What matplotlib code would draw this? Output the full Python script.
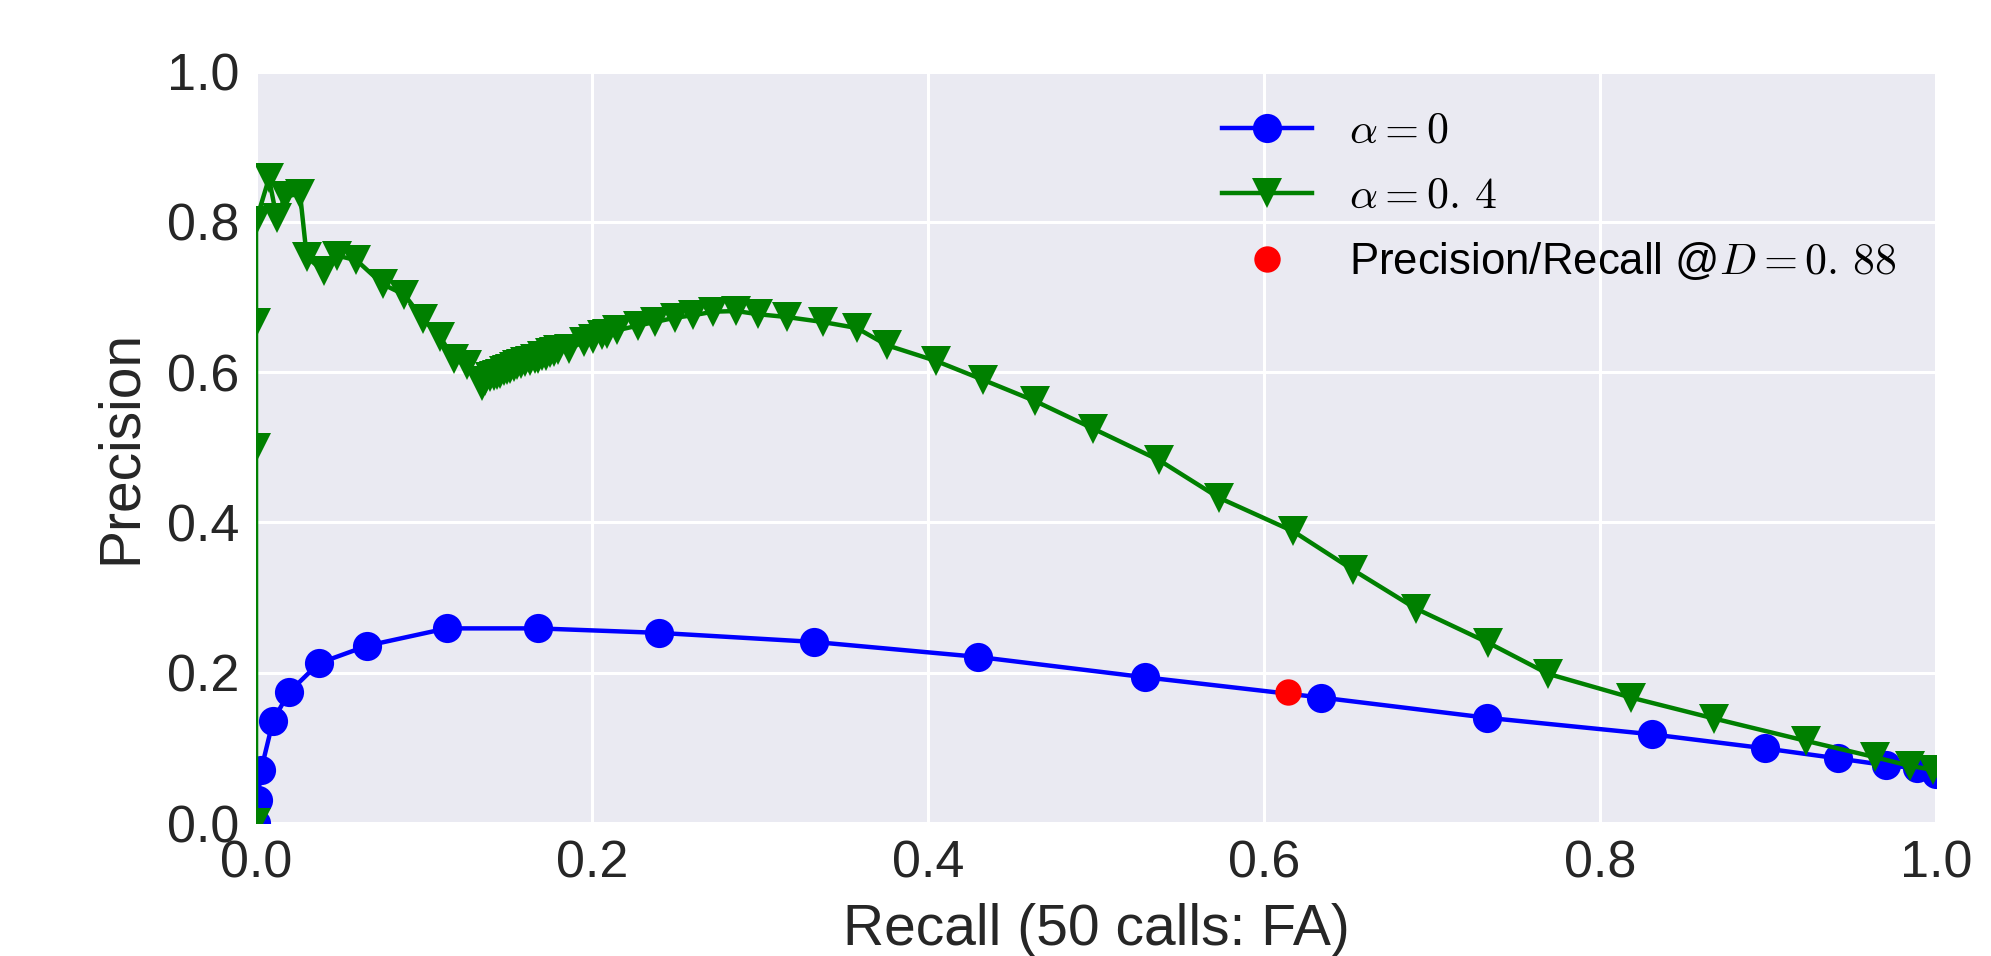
import matplotlib
matplotlib.use("Agg")
import matplotlib.pyplot as plt

# precision/recall curves
blue_recall = [0.0, 0.001, 0.003, 0.0101, 0.0196, 0.0373, 0.0663, 0.1135, 0.1677,
               0.240, 0.332, 0.430, 0.529, 0.634, 0.733, 0.831, 0.898, 0.9415,
               0.970, 0.9885, 1.0]
blue_precision = [0.0, 0.031, 0.0705, 0.136, 0.174, 0.2125, 0.236, 0.259, 0.259,
                  0.253, 0.241, 0.221, 0.194, 0.167, 0.140, 0.118, 0.0994, 0.086,
                  0.077, 0.0728, 0.065]

green_recall = [0.0, 0.0, 0.0, 0.0, 0.0077, 0.0123, 0.0173, 0.0262, 0.0302, 0.0405,
                0.0482, 0.0597, 0.0754, 0.0883, 0.0992, 0.1095, 0.118, 0.1254,
                0.1343, 0.1365, 0.1393, 0.1415, 0.1435, 0.1452, 0.1475, 0.1492,
                0.1512, 0.1535, 0.1552, 0.1575, 0.160, 0.163, 0.166, 0.168, 0.170,
                0.1725, 0.175, 0.1775, 0.180, 0.186, 0.195, 0.2008, 0.2058, 0.2088,
                0.2147, 0.2276, 0.2375, 0.2494, 0.260, 0.2722, 0.2857, 0.299,
                0.3159, 0.3373, 0.3575, 0.3758, 0.4048, 0.4325, 0.4637, 0.4984,
                0.5377, 0.573, 0.6175, 0.6532, 0.6903, 0.7335, 0.7692, 0.8183,
                0.868, 0.9226, 0.9637, 0.9845, 0.9984]
green_precision = [0.0, 0.499, 0.665, 0.801, 0.858, 0.805, 0.834, 0.837, 0.753, 0.734,
                   0.755, 0.749, 0.717, 0.703, 0.671, 0.647, 0.617, 0.609,
                   0.581, 0.588, 0.5935, 0.595, 0.596, 0.598, 0.601, 0.603,
                   0.604, 0.607, 0.610, 0.611, 0.6134, 0.615, 0.6174, 0.618, 0.621,
                   0.622, 0.6254, 0.627, 0.6297, 0.631, 0.640, 0.6445, 0.649, 0.651,
                   0.6556, 0.662, 0.6667, 0.6724, 0.6756, 0.6804, 0.6813, 0.677,
                   0.6733, 0.6667, 0.6587, 0.6356, 0.6148, 0.590, 0.5615, 0.5247,
                   0.4826, 0.433, 0.388, 0.3365, 0.2854, 0.2398, 0.1984, 0.167,
                   0.139, 0.1093, 0.0876, 0.076, 0.0707]

red_recall = [0.6145]
red_precision = [0.174]

ticks = [0.0, 0.2, 0.4, 0.6, 0.8, 1.0]

plt.rcParams["font.family"] = ["Liberation Sans", "DejaVu Sans"]
plt.rcParams["mathtext.fontset"] = "cm"

fig = plt.figure(figsize=(19.91, 9.56), dpi=100)
ax = fig.add_axes([0.1286, 0.1391, 0.8438, 0.7861])
ax.set_facecolor("#EAEAF2")
ax.grid(True, color="white", linewidth=2.2)
ax.set_axisbelow(True)
for s in ax.spines.values():
    s.set_visible(False)

ax.plot(blue_recall, blue_precision, "-o", color="b", lw=3.2, ms=21, mew=0,
        label=r"$\alpha=0$")
ax.plot(green_recall, green_precision, "-v", color="g", lw=3.2, ms=21, mew=0,
        label=r"$\alpha=0.\,4$")
ax.plot(red_recall, red_precision, "o", color="r", ms=19, mew=0,
        label=r"Precision/Recall @$D=0.\,88$")

ax.set_xlim(0, 1)
ax.set_ylim(0, 1)
ax.set_xticks(ticks)
ax.set_yticks(ticks)
ax.tick_params(length=0, pad=12, labelsize=37.5, colors="#262626")

ax.set_xlabel("Recall (50 calls: FA)", fontsize=41, color="#262626", labelpad=10)
ax.set_ylabel("Precision", fontsize=41, color="#262626", labelpad=14)

ax.legend(loc="upper right", frameon=False, fontsize=31.5, numpoints=1,
          handlelength=2.05, handletextpad=0.85, labelspacing=0.55,
          borderaxespad=0.5)

fig.savefig("out.png", dpi=100)
